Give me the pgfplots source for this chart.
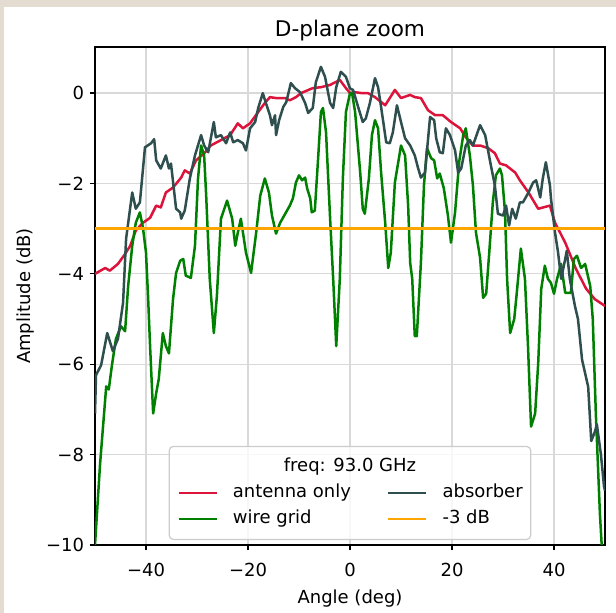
\documentclass[border=0pt]{standalone}
\usepackage{fontspec}
\setmainfont{DejaVu Sans}
\usepackage{pgfplots}
\pgfplotsset{compat=1.18}
\definecolor{crimson}{RGB}{220,20,60}
\definecolor{dslate}{RGB}{47,79,79}
\definecolor{mplgreen}{RGB}{0,128,0}
\definecolor{mplorange}{RGB}{255,165,0}
\definecolor{bgbeige}{RGB}{228,220,208}

\begin{document}
\begin{tikzpicture}
% page background (the reference is a screenshot with a thin beige rim)
\fill[bgbeige] (-47.5pt,-34pt) rectangle (260.5pt,272.5pt);
\fill[white] (-45.5pt,-34pt) rectangle (260.5pt,269pt);
\begin{axis}[
    scale only axis,
    width=255pt, height=249pt,
    xmin=-50, xmax=50, ymin=-10, ymax=1.02,
    xtick={-40,-20,0,20,40},
    xticklabels={−40,−20,0,20,40},
    ytick={-10,-8,-6,-4,-2,0},
    yticklabels={−10,−8,−6,−4,−2,0},
    tick align=outside, tick pos=left,
    major tick length=2.65pt,
    tick style={black, line width=0.6pt},
    axis line style={line width=0.6pt},
    grid=major,
    grid style={line width=0.6pt, black!15},
    tick label style={font=\fontsize{9}{10}\selectfont},
    xticklabel style={inner sep=2.65pt, yshift=-3.5pt},
    yticklabel style={inner sep=2.65pt},
    label style={font=\fontsize{9}{10}\selectfont},
    title={D-plane zoom},
    every axis title shift=0pt,
    title style={font=\fontsize{10.8}{12}\selectfont, at={(axis description cs:0.5,1.033)}, anchor=center},
    xlabel={Angle (deg)},
    xlabel style={at={(axis description cs:0.5,-0.108)}, anchor=center},
    ylabel={Amplitude (dB)},
    ylabel style={at={(axis description cs:-0.137,0.5)}, anchor=center},
    every axis plot/.append style={line width=1.25pt, line join=round},
    legend columns=2,
    legend cell align=left,
    legend image code/.code={\draw[#1] (0pt,0pt) -- (19pt,0pt);},
    legend style={
        at={(axis description cs:0.5,0.01)}, anchor=south,
        draw=black!20, line width=0.6pt, rounded corners=2pt,
        fill=white, fill opacity=0.8, text opacity=1,
        font=\fontsize{9}{10}\selectfont,
        inner xsep=4pt, inner ysep=3.75pt,
        row sep=0pt,
        nodes={inner xsep=0pt, inner ysep=2pt, text height=7pt, text depth=2pt},
        /tikz/every odd column/.append style={column sep=7.5pt},
        /tikz/every even column/.append style={column sep=18pt},
        label={[anchor=north, yshift=-5.75pt, inner sep=0pt, text height=7pt, text depth=2pt,
                font=\fontsize{9}{10}\selectfont]north:{freq: 93.0 GHz}},
    },
]

% antenna only
\addplot[crimson, forget plot] coordinates {
(-50,-4.0) (-48.0,-3.87) (-47.1,-3.93) (-45.5,-3.78) (-44.1,-3.56) (-43.1,-3.38)
(-42.0,-3.04) (-40.6,-2.87) (-39.2,-2.76) (-38.0,-2.49) (-37.1,-2.53) (-36.1,-2.2)
(-34.7,-2.09) (-33.1,-1.87) (-32.4,-1.71) (-31.4,-1.78) (-30.2,-1.49) (-28.4,-1.31)
(-27.3,-1.16) (-25.3,-1.04) (-23.5,-0.93) (-22.0,-0.67) (-21.0,-0.78) (-19.6,-0.67)
(-18.0,-0.42) (-16.7,-0.22) (-15.7,-0.09) (-14.5,-0.11) (-12.7,-0.11) (-11.8,-0.16)
(-10.6,-0.09) (-9.6,0) (-7.3,0.11) (-5.7,0.13) (-3.9,0.18) (-2.0,0.29) (-0.8,0.11)
(0,0) (1.0,0.02) (2.2,0) (3.5,0) (4.9,-0.09) (6.9,-0.27) (8.8,0.07) (10.0,-0.11)
(11.8,-0.04) (12.7,-0.09) (13.9,-0.11) (15.3,-0.38) (16.7,-0.49) (18.2,-0.49)
(19.8,-0.64) (21.6,-0.78) (22.7,-0.98) (24.1,-1.16) (25.5,-1.16) (27.1,-1.22)
(28.4,-1.33) (29.4,-1.56) (30.6,-1.6) (32.4,-1.76) (33.3,-1.93) (35.0,-2.2)
(36.9,-2.56) (39.2,-2.49) (40.2,-2.87) (42.2,-3.31) (44.3,-3.89) (46.3,-4.33)
(48.0,-4.56) (50.0,-4.71)
};

% wire grid
\addplot[mplgreen, forget plot] coordinates {
(-50.0,-10.0) (-49.0,-8.2) (-47.8,-6.49) (-47.3,-6.56) (-46.7,-6.04) (-45.9,-5.44)
(-44.9,-5.16) (-44.1,-5.27) (-43.5,-4.27) (-42.7,-3.38) (-42.0,-2.87) (-41.2,-2.64)
(-40.6,-2.98) (-40.0,-3.53) (-39.6,-4.49) (-39.2,-5.6) (-38.6,-7.09) (-38.0,-6.64)
(-37.5,-6.33) (-36.7,-5.31) (-36.1,-5.6) (-35.5,-5.76) (-34.7,-4.56) (-34.1,-3.98)
(-33.3,-3.71) (-32.7,-3.67) (-32.2,-4.04) (-31.2,-4.09) (-30.4,-3.38) (-29.8,-1.89)
(-29.2,-1.16) (-28.6,-1.38) (-28.2,-2.27) (-27.5,-4.11) (-26.7,-5.31) (-26.1,-4.49)
(-25.3,-2.78) (-24.1,-2.38) (-23.1,-2.78) (-22.5,-3.38) (-22.0,-3.09) (-21.4,-2.78)
(-20.4,-3.53) (-19.4,-3.98) (-18.4,-3.09) (-17.6,-2.27) (-16.7,-1.89) (-15.9,-2.2)
(-15.3,-2.71) (-14.5,-3.11) (-13.7,-2.87) (-12.7,-2.67) (-11.8,-2.49) (-11.2,-2.33)
(-10.6,-1.98) (-10.0,-1.82) (-9.4,-1.93) (-8.8,-1.87) (-8.4,-2.11) (-7.8,-2.33)
(-7.5,-2.64) (-6.9,-2.6) (-6.3,-1.53) (-5.7,-0.42) (-5.3,-0.33) (-4.7,-0.87)
(-3.9,-2.78) (-3.3,-4.11) (-2.7,-5.6) (-2.0,-4.11) (-1.4,-1.89) (-0.8,-0.42)
(0,0) (0.4,0) (1.0,-0.42) (2.0,-1.76) (2.5,-2.56) (2.9,-2.67) (3.7,-1.89)
(4.3,-0.93) (4.9,-0.6) (5.5,-0.78) (6.1,-1.76) (6.9,-2.87) (7.5,-3.87) (8.0,-3.53)
(8.8,-1.98) (10.0,-1.16) (10.8,-1.38) (11.4,-2.49) (11.8,-3.76) (12.2,-4.11)
(12.7,-5.38) (13.1,-5.38) (13.9,-3.76) (14.5,-2.04) (15.1,-1.22) (15.9,-1.44)
(16.5,-1.49) (17.1,-1.89) (17.6,-1.78) (18.4,-2.11) (19.2,-2.71) (19.8,-3.31)
(20.6,-2.64) (21.4,-1.53) (22.2,-0.93) (22.7,-0.78) (23.5,-1.38) (24.1,-2.04)
(24.7,-3.09) (25.5,-3.64) (26.1,-4.53) (26.7,-4.44) (27.3,-3.53) (28.0,-2.42)
(28.6,-1.82) (29.4,-1.67) (29.8,-1.82) (30.4,-2.64) (30.8,-4.11) (31.4,-5.31)
(32.2,-5.0) (32.7,-4.42) (33.5,-3.44) (34.3,-4.11) (34.9,-5.6) (35.5,-7.38)
(36.3,-7.09) (36.9,-5.98) (37.5,-4.33) (38.2,-3.82) (38.8,-4.11) (39.4,-4.2)
(40.0,-4.44) (40.6,-4.11) (41.4,-3.78) (41.8,-4.11) (42.2,-4.42) (43.3,-4.42)
(43.9,-3.67) (44.5,-3.6) (45.3,-3.87) (46.1,-3.78) (47.1,-4.27) (47.6,-5.0)
(48.2,-7.09) (49.0,-9.31) (49.4,-10.1)
};

% absorber
\addplot[dslate, forget plot] coordinates {
(-50.0,-7.09) (-49.8,-6.24) (-48.8,-6.02) (-47.6,-5.31) (-46.5,-5.71) (-45.5,-5.44)
(-44.5,-4.64) (-43.9,-3.22) (-42.7,-2.2) (-42.0,-2.56) (-41.2,-2.42) (-40.2,-1.2)
(-39.0,-1.11) (-38.4,-1.02) (-38.0,-1.49) (-37.1,-1.67) (-36.1,-1.38) (-35.5,-1.67)
(-35.1,-1.56) (-34.1,-2.56) (-33.3,-2.64) (-33.1,-2.78) (-32.4,-2.6) (-31.4,-1.89)
(-30.4,-1.38) (-29.2,-0.93) (-28.6,-1.16) (-27.8,-1.31) (-26.7,-0.64) (-26.3,-0.98)
(-25.3,-0.93) (-24.3,-1.11) (-23.5,-0.87) (-22.9,-1.09) (-22.0,-1.04) (-21.0,-1.11)
(-20.4,-1.27) (-19.6,-0.78) (-18.6,-0.64) (-18.0,-0.33) (-17.1,0) (-16.5,-0.22)
(-15.7,-0.49) (-15.3,-0.71) (-14.7,-0.49) (-14.5,-0.93) (-13.9,-0.6) (-13.1,-0.31)
(-12.5,-0.2) (-11.6,0.22) (-10.8,0.11) (-9.8,0.02) (-8.8,-0.22) (-8.2,-0.44)
(-7.3,-0.33) (-6.7,0.24) (-5.7,0.58) (-4.9,0.36) (-3.9,-0.22) (-3.3,-0.33)
(-2.7,0.13) (-1.8,0.47) (-0.8,0.36) (0,0.1) (0.6,0.07) (1.6,-0.31) (2.5,-0.64)
(3.1,-0.56) (3.9,-0.22) (4.9,0.33) (5.5,0.13) (6.1,-0.31) (7.1,-1.09) (7.8,-1.11)
(8.4,-0.87) (9.2,-0.27) (10.0,-0.64) (10.8,-1.0) (11.8,-1.16) (12.7,-1.38)
(13.3,-1.64) (13.9,-1.87) (14.7,-1.76) (15.7,-0.53) (16.5,-0.6) (16.9,-1.0)
(17.6,-1.31) (18.2,-1.33) (18.8,-0.78) (19.6,-0.93) (20.6,-1.27) (21.2,-1.76)
(21.8,-1.67) (22.7,-1.16) (23.5,-1.04) (24.1,-1.16) (25.5,-0.71) (26.5,-0.93)
(27.5,-1.53) (28.4,-2.04) (29.0,-2.67) (30.0,-2.71) (30.6,-2.49) (31.2,-2.93)
(31.8,-2.56) (32.5,-2.78) (33.3,-2.42) (33.9,-2.42) (34.9,-2.22) (35.9,-1.98)
(36.5,-1.93) (37.3,-2.31) (37.8,-1.89) (38.4,-1.53) (39.2,-2.04) (39.4,-2.33)
(40.2,-3.09) (40.8,-3.53) (41.4,-4.11) (42.2,-3.67) (42.5,-3.49) (43.1,-4.11)
(44.1,-4.71) (44.7,-5.0) (45.5,-5.9) (46.1,-6.2) (46.7,-6.5) (47.3,-7.7)
(48.0,-7.5) (48.4,-7.33) (49.2,-8.0) (49.8,-8.7) (50.0,-8.8)
};

% -3 dB level
\addplot[mplorange, forget plot] coordinates {(-50,-3) (50,-3)};

\addlegendimage{empty legend}\addlegendentry{}
\addlegendimage{empty legend}\addlegendentry{}
\addlegendimage{crimson, line width=1.25pt}\addlegendentry{antenna only}
\addlegendimage{dslate, line width=1.25pt}\addlegendentry{absorber}
\addlegendimage{mplgreen, line width=1.25pt}\addlegendentry{wire grid}
\addlegendimage{mplorange, line width=1.25pt}\addlegendentry{-3 dB}
\end{axis}
\pgfresetboundingbox
\useasboundingbox (-47.5pt,-34pt) rectangle (260.5pt,272.5pt);
\end{tikzpicture}
\end{document}
